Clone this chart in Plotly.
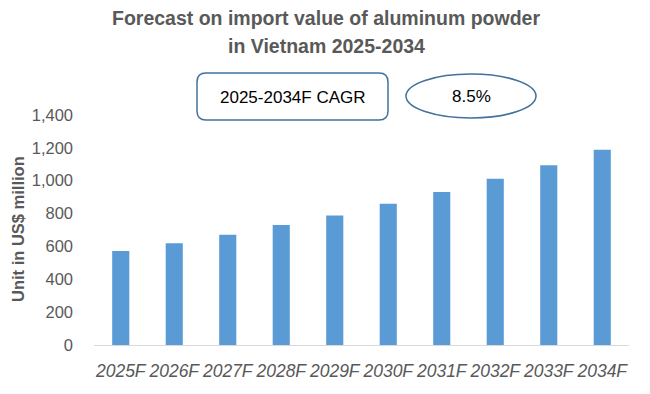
import plotly.graph_objects as go

categories = ["2025F", "2026F", "2027F", "2028F", "2029F", "2030F", "2031F", "2032F", "2033F", "2034F"]
values = [572, 619, 671, 730, 789, 860, 931, 1012, 1094, 1189]
y_ticks = [0, 200, 400, 600, 800, 1000, 1200, 1400]
y_tick_labels = ["0", "200", "400", "600", "800", "1,000", "1,200", "1,400"]
title_lines = ["Forecast on import value of aluminum powder", "in Vietnam 2025-2034"]
cagr_label = "2025-2034F CAGR"
cagr_value = "8.5%"
y_title = "Unit in US$ million"

O = 8  # default page body margin
W, H = 650 - O, 394 - O
L, R, T, B = 94 - O, 21, 115 - O, 49
PW, PH = W - L - R, H - T - B
FONT = "Liberation Sans"
GREY = "#595959"
OUTLINE = "#41719C"

def px(x):
    return (x - O - L) / PW

def py(y):
    return (H - B - (y - O)) / PH

def label(text, x, y, size, color, angle=0):
    fig.add_annotation(text=text, x=px(x), y=py(y), xref="paper", yref="paper",
                       xanchor="center", yanchor="middle", showarrow=False,
                       textangle=angle, font=dict(family=FONT, size=size, color=color))

fig = go.Figure()
fig.add_trace(go.Bar(x=categories, y=values, marker_color="#5B9BD5",
                     marker_line_width=0, width=0.32))

# rounded rectangle
x0, x1, y0, y1, r = 197, 388, 73, 120, 9
path = (f"M {px(x0+r)},{py(y0)} L {px(x1-r)},{py(y0)} Q {px(x1)},{py(y0)} {px(x1)},{py(y0+r)} "
        f"L {px(x1)},{py(y1-r)} Q {px(x1)},{py(y1)} {px(x1-r)},{py(y1)} "
        f"L {px(x0+r)},{py(y1)} Q {px(x0)},{py(y1)} {px(x0)},{py(y1-r)} "
        f"L {px(x0)},{py(y0+r)} Q {px(x0)},{py(y0)} {px(x0+r)},{py(y0)} Z")
fig.add_shape(type="path", path=path, xref="paper", yref="paper",
              line=dict(color=OUTLINE, width=1.5), fillcolor="white")
fig.add_shape(type="circle", xref="paper", yref="paper",
              x0=px(406), x1=px(536), y0=py(118), y1=py(74),
              line=dict(color=OUTLINE, width=1.5), fillcolor="white")

label(cagr_label, 293, 97, 17, "black")
label(cagr_value, 471, 96, 17, "black")
label(f"<b>{title_lines[0]}</b>", 326, 18, 19.5, GREY)
label(f"<b>{title_lines[1]}</b>", 326, 46, 19.5, GREY)
label(f"<b>{y_title}</b>", 18, 229, 16.5, GREY, angle=-90)

fig.update_layout(
    width=W, height=H, margin=dict(l=L, r=R, t=T, b=B, autoexpand=False),
    plot_bgcolor="white", paper_bgcolor="white", showlegend=False,
    font=dict(family=FONT, color=GREY),
)
fig.update_xaxes(showgrid=False, showline=True, linecolor="#D9D9D9", linewidth=1,
                 automargin=False, ticks="", tickangle=0, ticklabelstandoff=10,
                 tickfont=dict(family=FONT, size=17.5, color=GREY, style="italic"))
fig.update_yaxes(range=[0, 1400], tickvals=y_ticks, ticktext=y_tick_labels,
                 showgrid=False, zeroline=False, showline=False, ticks="",
                 automargin=False, ticklabelstandoff=20,
                 tickfont=dict(family=FONT, size=16.5, color=GREY))

fig.write_html("out.html")
